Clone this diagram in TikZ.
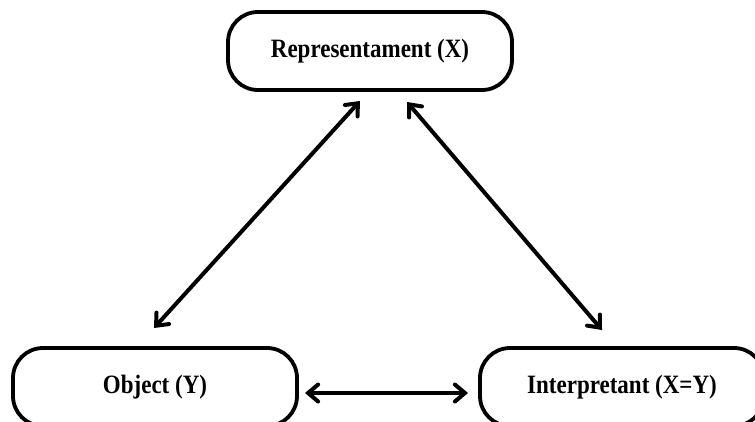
\documentclass[tikz,border=0pt]{standalone}
\usepackage{fontspec}
\setmainfont{Liberation Serif}
\usetikzlibrary{arrows.meta}
\newcommand{\tallen}[1]{\scalebox{1}[1.15]{#1}}
\begin{document}
\begin{tikzpicture}[x=1pt,y=-1pt,
  term/.style={draw=black, line width=3.8pt, rounded corners=30pt, minimum width=284pt, minimum height=78pt, inner sep=0pt, font=\fontsize{23}{26}\selectfont\bfseries},
  link/.style={line width=4pt, {Straight Barb[length=10pt,width=17pt,line cap=round]}-{Straight Barb[length=10pt,width=17pt,line cap=round]}}]
\useasboundingbox (0,0) rectangle (755,421);
\begin{scope}
\clip (0,0) rectangle (755,421);
\node[term] (rep) at (370,51) {\raisebox{-2pt}{\tallen{Representament (X)}}};
\node[term] (obj) at (155,387) {\raisebox{-3pt}{\tallen{Object (Y)}}};
\node[term] (int) at (622,387) {\raisebox{-3pt}{\tallen{Interpretant (X=Y)}}};
\end{scope}
\coordinate (a1) at (360,101);
\coordinate (a2) at (154,328);
\coordinate (b1) at (407,102);
\coordinate (b2) at (602,330);
\coordinate (c1) at (305,393);
\coordinate (c2) at (468,393);
\draw[link] (a2) -- (a1);
\draw[link] (b1) -- (b2);
\draw[link] (c1) -- (c2);
\end{tikzpicture}
\end{document}
